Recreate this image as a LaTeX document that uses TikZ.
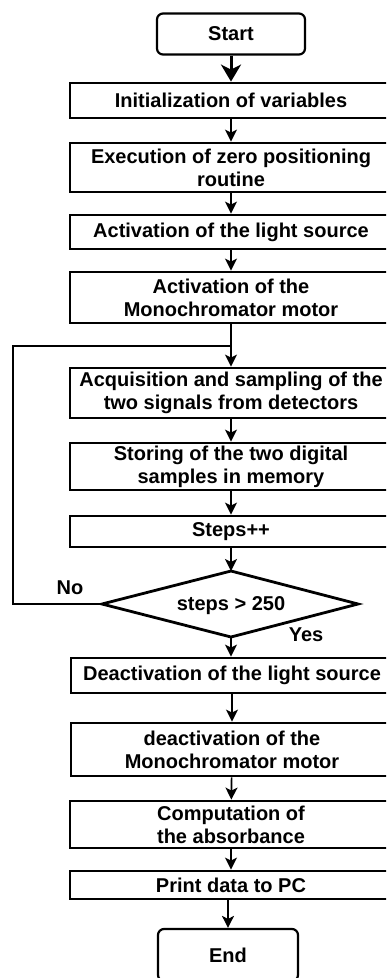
\documentclass[tikz,border=0pt]{standalone}
\usepackage{fontspec}
\setmainfont{Liberation Sans}
\usetikzlibrary{arrows.meta}
\begin{document}
\begin{tikzpicture}[x=1pt,y=-1pt,
  every node/.style={font=\bfseries\fontsize{20}{23}\selectfont, align=center, inner sep=0pt},
  procbox/.style={draw, line width=2.8pt, minimum width=322pt},
  termbox/.style={draw, line width=2.2pt, rounded corners=6pt},
  conn/.style={line width=1.7pt, -{Stealth[length=12pt,width=12pt,inset=3pt]}},
  bigconn/.style={line width=3pt, -{Stealth[length=17pt,width=20pt,inset=5pt]}},
  plain/.style={line width=1.6pt}
]
\useasboundingbox (0,0) rectangle (386,978);
\begin{scope}
\clip (0,0) rectangle (386,978);
\node[termbox, minimum width=148pt, minimum height=41pt] (start) at (231,34) {Start};
\node[procbox, minimum height=35pt] (init) at (231,100.5) {Initialization of variables};
\node[procbox, minimum height=49pt] (exec) at (231,167.5) {Execution of zero positioning\\routine};
\node[procbox, minimum height=34pt] (light) at (231,232) {Activation of the light source};
\node[procbox, minimum height=51pt] (mono) at (231,297.5) {Activation of the\\Monochromator motor};
\node[procbox, minimum height=50pt] (acq) at (231,393) {Acquisition and sampling of the\\two signals from detectors};
\node[procbox, minimum height=47pt] (store) at (231,466.5) {Storing of the two digital\\samples in memory};
\node[procbox, minimum height=31pt] (steps) at (231,531.5) {Steps++};
\coordinate (dtop) at (231,571);
\coordinate (dbot) at (231,637);
\coordinate (dleft) at (102,604);
\coordinate (dright) at (358,604);
\draw[line width=2.8pt, line join=miter] (dtop) -- (dright) -- (dbot) -- (dleft) -- cycle;
\node (dec) at (231,606) {steps > 250};
\node[procbox, minimum height=35pt] (dlight) at (232,675.5) {Deactivation of the light source};
\node[procbox, minimum height=53pt] (dmono) at (232,749.5) {deactivation of the\\Monochromator motor};
\node[procbox, minimum height=47pt] (comp) at (231,824.5) {Computation of\\the absorbance};
\node[procbox, minimum height=28pt] (print) at (231,885) {Print data to PC};
\node[termbox, minimum width=140pt, minimum height=52pt] (end) at (228,955) {End};
\node (no) at (70,588) {No};
\node (yes) at (306,635) {Yes};
\coordinate (join) at (231,346);
\coordinate (loopx) at (13,346);
\end{scope}
\draw[bigconn] (start) -- (init);
\draw[conn] (init) -- (exec);
\draw[conn] (exec) -- (light);
\draw[conn] (light) -- (mono);
\draw[conn] (mono) -- (acq);
\draw[conn] (acq) -- (store);
\draw[conn] (store) -- (steps);
\draw[conn] (steps) -- (dtop);
\draw[conn] (dbot) -- (dbot |- dlight.north);
\draw[conn] (dlight) -- (dmono);
\draw[conn] (dmono) -- (comp);
\draw[conn] (comp) -- (print);
\draw[conn] (end.north |- print.south) -- (end.north);
\draw[plain] (dleft) -| (loopx) -- (join);
\end{tikzpicture}
\end{document}
